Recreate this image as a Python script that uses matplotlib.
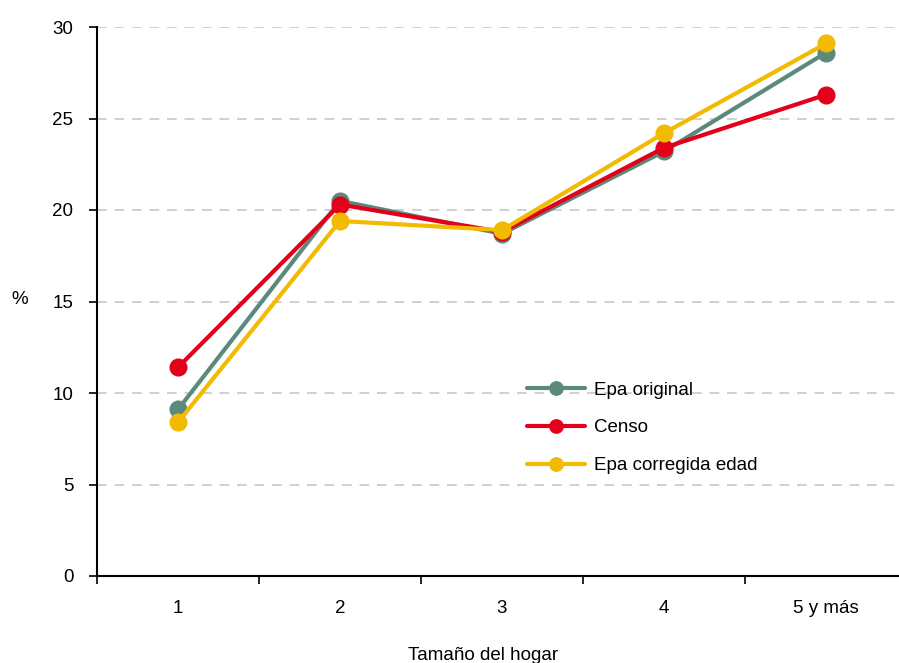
import numpy as np
import matplotlib.pyplot as plt
from matplotlib.ticker import FixedLocator

categories = ['1', '2', '3', '4', '5 y más']
epa_original = [9.1, 20.5, 18.7, 23.2, 28.6]
censo = [11.4, 20.3, 18.8, 23.4, 26.3]
epa_corregida = [8.4, 19.4, 18.9, 24.2, 29.1]

plt.rcParams['font.family'] = ['Liberation Sans', 'DejaVu Sans']
plt.rcParams['font.size'] = 13.5

fig = plt.figure(figsize=(8.99, 6.63), dpi=100)
ax = fig.add_axes([97 / 899, 87 / 663, 810 / 899, 549 / 663])

x = np.arange(len(categories))
series = [
    ('Epa original', epa_original, '#5b8a7d'),
    ('Censo', censo, '#e2001a'),
    ('Epa corregida edad', epa_corregida, '#f2ba00'),
]
for name, vals, col in series:
    ax.plot(x, vals, color=col, lw=3, marker='o', ms=12, label=name,
            solid_capstyle='round')

ax.set_xlim(-0.5, len(categories) - 0.5)
ax.set_ylim(0, 30)
ax.set_yticks(range(0, 31, 5))
ax.yaxis.grid(True, color='#d0d0d0', ls=(0, (5, 4)), lw=1.4)
ax.set_axisbelow(True)

ax.set_xticks(x)
ax.set_xticklabels(categories)
ax.tick_params(axis='x', which='major', length=0, pad=17)
ax.xaxis.set_minor_locator(FixedLocator(np.arange(-0.5, len(categories), 1)))
ax.tick_params(axis='x', which='minor', length=6, width=1.2, direction='out')
ax.tick_params(axis='y', length=6, width=1.2, direction='out', pad=11)

for s in ['top', 'right']:
    ax.spines[s].set_visible(False)
for s in ['left', 'bottom']:
    ax.spines[s].set_linewidth(1.5)
    ax.spines[s].set_color('black')

fig.text(20 / 899, 1 - 300 / 663, '%', ha='center', va='center')
fig.text(483 / 899, 1 - 655 / 663, 'Tamaño del hogar', ha='center', va='center')

ax.legend(loc='upper left', bbox_to_anchor=(0.51, 0.385), frameon=False,
          handlelength=3.1, handletextpad=0.5, labelspacing=1.1,
          markerscale=0.8)

fig.savefig('out.png', dpi=100)
